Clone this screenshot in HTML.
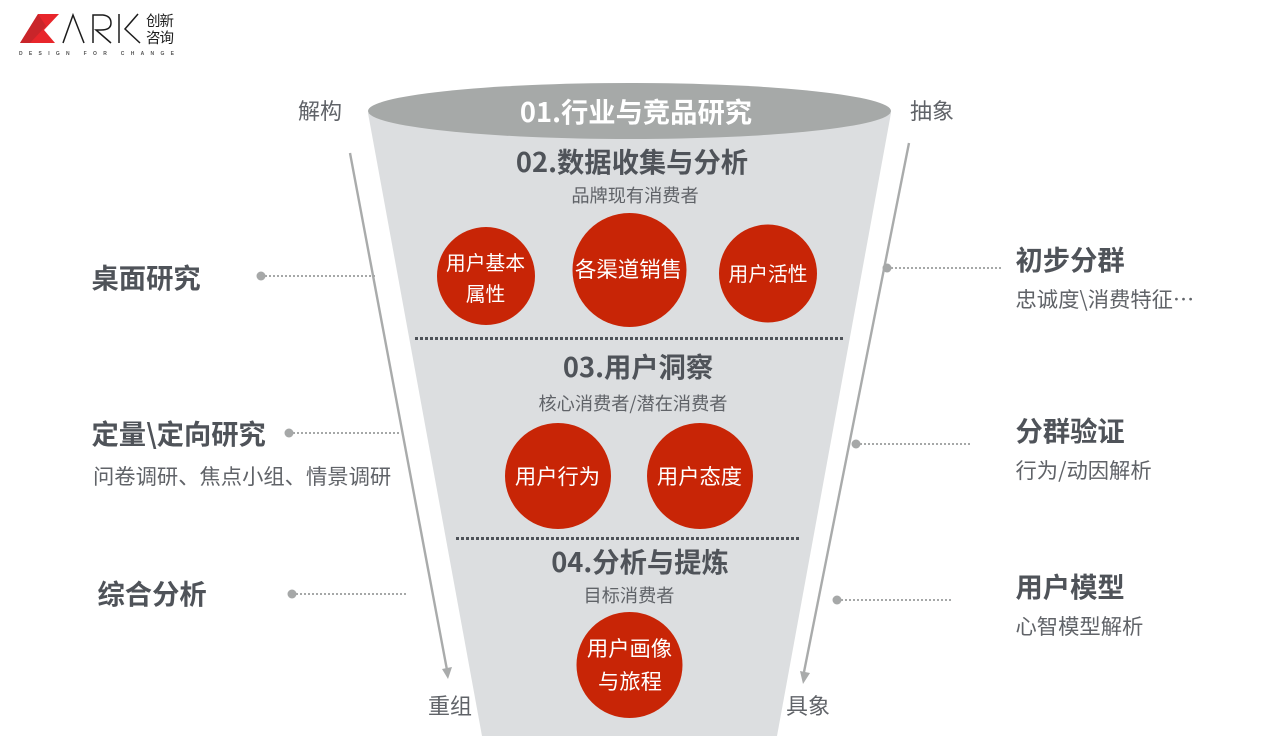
<!DOCTYPE html>
<html lang="zh">
<head>
<meta charset="utf-8">
<style>
html,body{margin:0;padding:0;background:#fff;width:1279px;height:746px;overflow:hidden}
svg{display:block}
text{font-family:"Liberation Sans","Noto Sans CJK SC",sans-serif}
.cjk{font-family:"Noto Sans CJK SC","Liberation Sans",sans-serif}
.h{font-weight:700;fill:#4f5359;font-size:27.300px}
.s{fill:#606368;font-size:18.200px}
.m{fill:#606368;font-size:22px}
.c{fill:#fff;font-size:19.800px}
.lbl{font-weight:700;fill:#4f5359;font-size:27.300px}
.sub{fill:#606368;font-size:21.300px}
.dot{stroke:#a6a8a8;stroke-width:2;stroke-dasharray:2 2;fill:none}
.ln{stroke:#a9abab;stroke-width:2.400;fill:none}
</style>
</head>
<body>
<svg width="1279" height="746" viewBox="0 0 1279 746" xmlns="http://www.w3.org/2000/svg">
<rect width="1279" height="746" fill="#fff"/>

<!-- logo -->
<polygon points="38,14 59,14 44,30 55,43 20,43" fill="#e8262b"/>
<polygon points="38,14 46,26 30,43 20,43" fill="#c9252a"/>
<g stroke="#1c1c1c" stroke-width="1.500" fill="none">
<path d="M63,43 L73,15 L84,43"/>
<path d="M93,43 V15 H103 Q111,16 111,23 Q111,30 101,30 H96 L111,43"/>
<path d="M119,14 V43"/>
<path d="M138,14 L125,29 L140,43"/>
</g>
<text class="cjk" x="146" y="26" font-size="14.500" fill="#1c1c1c" textLength="28">创新</text>
<text class="cjk" x="146" y="43" font-size="14.500" fill="#1c1c1c" textLength="28">咨询</text>
<text x="19" y="55" font-size="5" fill="#555" textLength="155" font-weight="700">DESIGN FOR CHANGE</text>

<!-- funnel -->
<polygon points="368,113 891,113 777,736 482,736" fill="#dcdee0"/>
<ellipse cx="629.500" cy="111" rx="261.500" ry="28" fill="#a6a9a8"/>

<!-- dotted separators -->
<line x1="415" y1="338.500" x2="844" y2="338.500" stroke="#4d5157" stroke-width="3" stroke-dasharray="3 2"/>
<line x1="456" y1="538.500" x2="800" y2="538.500" stroke="#4d5157" stroke-width="3" stroke-dasharray="3 2"/>

<!-- funnel text -->
<text class="cjk" x="636" y="122" text-anchor="middle" font-size="27.300" font-weight="700" fill="#fff">01.行业与竞品研究</text>
<text class="cjk h" x="632" y="172" text-anchor="middle">02.数据收集与分析</text>
<text class="cjk s" x="635" y="202" text-anchor="middle">品牌现有消费者</text>
<text class="cjk h" x="638" y="377" text-anchor="middle">03.用户洞察</text>
<text class="cjk s" x="633" y="410" text-anchor="middle">核心消费者/潜在消费者</text>
<text class="cjk h" x="640" y="572" text-anchor="middle">04.分析与提炼</text>
<text class="cjk s" x="629" y="602" text-anchor="middle">目标消费者</text>

<!-- circles -->
<g fill="#c82506">
<ellipse cx="486" cy="276" rx="49" ry="49"/>
<ellipse cx="629.500" cy="270" rx="57" ry="57"/>
<ellipse cx="768" cy="273.500" rx="49" ry="49"/>
<circle cx="558" cy="476" r="53"/>
<circle cx="700" cy="476" r="53"/>
<circle cx="629.500" cy="665" r="53"/>
</g>
<g class="cjk" text-anchor="middle">
<text class="cjk c" x="485.500" y="270" text-anchor="middle">用户基本</text>
<text class="cjk c" x="485.500" y="301" text-anchor="middle">属性</text>
<text class="cjk" x="628.500" y="277" text-anchor="middle" fill="#fff" font-size="21.400">各渠道销售</text>
<text class="cjk c" x="768" y="281" text-anchor="middle">用户活性</text>
<text class="cjk" x="557.500" y="484" text-anchor="middle" fill="#fff" font-size="21.300">用户行为</text>
<text class="cjk" x="699.500" y="484" text-anchor="middle" fill="#fff" font-size="21.300">用户态度</text>
<text class="cjk" x="629.500" y="656" text-anchor="middle" fill="#fff" font-size="21.300">用户画像</text>
<text class="cjk" x="630" y="689" text-anchor="middle" fill="#fff" font-size="21.300">与旅程</text>
</g>

<!-- side lines with arrows -->
<line class="ln" x1="350" y1="153" x2="447" y2="670"/>
<polygon points="442,669 452,667 448,679" fill="#a9abab"/>
<line class="ln" x1="909" y1="143" x2="804" y2="672"/>
<polygon points="800,671 810,673 803,684" fill="#a9abab"/>

<text class="cjk m" x="320" y="119" text-anchor="middle">解构</text>
<text class="cjk m" x="932" y="119" text-anchor="middle">抽象</text>
<text class="cjk m" x="450" y="714" text-anchor="middle">重组</text>
<text class="cjk m" x="808" y="714" text-anchor="middle">具象</text>

<!-- left connectors -->
<circle cx="261" cy="276" r="4.500" fill="#a6a8a8"/>
<line class="dot" x1="265" y1="276" x2="377" y2="276"/>
<circle cx="289" cy="433" r="4.500" fill="#a6a8a8"/>
<line class="dot" x1="293" y1="433" x2="401" y2="433"/>
<circle cx="292" cy="594" r="4.500" fill="#a6a8a8"/>
<line class="dot" x1="296" y1="594" x2="408" y2="594"/>

<!-- right connectors -->
<circle cx="887" cy="268" r="4.500" fill="#a6a8a8"/>
<line class="dot" x1="891" y1="268" x2="1003" y2="268"/>
<circle cx="856" cy="444" r="4.500" fill="#a6a8a8"/>
<line class="dot" x1="860" y1="444" x2="972" y2="444"/>
<circle cx="837" cy="600" r="4.500" fill="#a6a8a8"/>
<line class="dot" x1="841" y1="600" x2="953" y2="600"/>

<!-- left labels -->
<text class="cjk lbl" x="91.500" y="288">桌面研究</text>
<text class="cjk lbl" x="91.500" y="444">定量\定向研究</text>
<text class="cjk sub" x="93" y="484">问卷调研、焦点小组、情景调研</text>
<text class="cjk lbl" x="97.500" y="604">综合分析</text>

<!-- right labels -->
<text class="cjk lbl" x="1015.500" y="270">初步分群</text>
<text class="cjk sub" x="1015.500" y="307">忠诚度\消费特征…</text>
<text class="cjk lbl" x="1015.500" y="441">分群验证</text>
<text class="cjk sub" x="1015.500" y="478">行为/动因解析</text>
<text class="cjk lbl" x="1015.500" y="597">用户模型</text>
<text class="cjk sub" x="1015.500" y="634">心智模型解析</text>
</svg>
</body>
</html>
